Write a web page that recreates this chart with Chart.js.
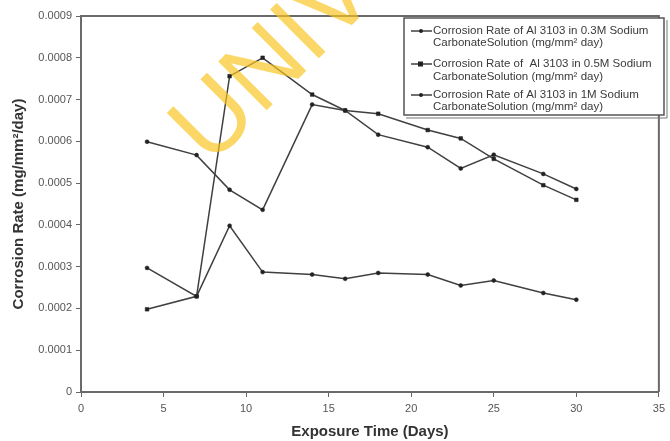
<!DOCTYPE html>
<html><head><meta charset="utf-8">
<script src="https://cdn.jsdelivr.net/npm/chart.js@4.4.1/dist/chart.umd.min.js"></script>
<style>html,body{margin:0;padding:0;background:#fff;}#wrap{width:670px;height:441px;}</style>
</head><body><div id="wrap"><canvas id="c" width="670" height="441"></canvas></div>
<script>
const days = [4, 7, 9, 11, 14, 16, 18, 21, 23, 25, 28, 30];
const rate03 = [0.000297, 0.000229, 0.000398, 0.000287, 0.000281, 0.000271, 0.000285, 0.000281, 0.000255, 0.000267, 0.000237, 0.000221];
const rate05 = [0.000198, 0.000229, 0.000756, 0.000800, 0.000712, 0.000674, 0.000666, 0.000627, 0.000607, 0.000558, 0.000495, 0.000460];
const rate1  = [0.000599, 0.000567, 0.000484, 0.000436, 0.000688, 0.000674, 0.000616, 0.000586, 0.000535, 0.000568, 0.000522, 0.000486];
const seriesLabels = [
  ["Corrosion Rate of Al 3103 in 0.3M Sodium", "CarbonateSolution (mg/mm\u00B2 day)"],
  ["Corrosion Rate of  Al 3103 in 0.5M Sodium", "CarbonateSolution (mg/mm\u00B2 day)"],
  ["Corrosion Rate of Al 3103 in 1M Sodium", "CarbonateSolution (mg/mm\u00B2 day)"]
];
const xTitle = "Exposure Time (Days)";
const yTitle = "Corrosion Rate (mg/mm\u00B2/day)";
const watermark = "UNIVERSITY";

const pts = arr => days.map((d, i) => ({x: d, y: arr[i]}));
const lineCol = '#404040';
const FONT = "'Liberation Sans', Arial, sans-serif";

const framePlugin = {
  id: 'frame',
  afterDraw(chart) {
    const {ctx, chartArea: a} = chart;
    ctx.save();
    // top and right frame
    ctx.strokeStyle = '#6a6a6a';
    ctx.lineWidth = 2;
    ctx.beginPath();
    ctx.moveTo(a.left, a.top); ctx.lineTo(a.right, a.top); ctx.lineTo(a.right, a.bottom);
    ctx.stroke();
    // legend box
    const bx = 404, by = 18, bw = 260, bh = 97;
    ctx.fillStyle = '#fff';
    ctx.fillRect(bx, by, bw, bh);
    ctx.strokeStyle = '#555';
    ctx.lineWidth = 1.5;
    ctx.strokeRect(bx, by, bw, bh);
    ctx.lineWidth = 1;
    ctx.strokeStyle = '#777';
    ctx.beginPath();
    ctx.moveTo(bx + 2, by + bh + 3); ctx.lineTo(bx + bw + 3, by + bh + 3); ctx.lineTo(bx + bw + 3, by + 2);
    ctx.stroke();
    const rows = [[31, 43], [64, 77], [95, 107]];
    ctx.font = '11.5px ' + FONT;
    ctx.textBaseline = 'middle';
    ctx.textAlign = 'left';
    chart.data.datasets.forEach((ds, i) => {
      const y = rows[i][0];
      ctx.strokeStyle = lineCol; ctx.lineWidth = 1.5;
      ctx.beginPath(); ctx.moveTo(411, y); ctx.lineTo(432, y); ctx.stroke();
      ctx.fillStyle = '#222';
      if (ds.pointStyle === 'rect') { ctx.fillRect(418, y - 2.5, 5, 5); }
      else { ctx.beginPath(); ctx.arc(421, y, 2, 0, Math.PI * 2); ctx.fill(); }
      ctx.fillStyle = '#3a3a3a';
      seriesLabels[i].forEach((t, j) => ctx.fillText(t, 433, rows[i][j]));
    });
    // watermark
    ctx.translate(210, 167);
    ctx.rotate(-Math.PI / 4);
    ctx.font = '100px ' + FONT;
    ctx.textBaseline = 'alphabetic';
    ctx.fillStyle = 'rgba(247,196,30,0.68)';
    ctx.fillText(watermark, 0, 0);
    ctx.restore();
  }
};

new Chart(document.getElementById('c'), {
  type: 'line',
  data: {
    datasets: [
      {label: seriesLabels[0].join(' '), data: pts(rate03), pointStyle: 'circle', pointRadius: 2},
      {label: seriesLabels[1].join(' '), data: pts(rate05), pointStyle: 'rect', pointRadius: 2.6},
      {label: seriesLabels[2].join(' '), data: pts(rate1), pointStyle: 'circle', pointRadius: 2}
    ].map(d => Object.assign(d, {borderColor: lineCol, backgroundColor: '#222', pointBorderColor: '#222',
      pointBackgroundColor: '#222', pointBorderWidth: 0.5, borderWidth: 1.5, tension: 0, fill: false}))
  },
  options: {
    responsive: false,
    animation: false,
    devicePixelRatio: 1,
    layout: {padding: {top: 16, right: 8, left: 0, bottom: 0}},
    plugins: {legend: {display: false}, tooltip: {enabled: false}},
    scales: {
      x: {
        type: 'linear', min: 0, max: 35,
        ticks: {stepSize: 5, color: '#555', font: {family: FONT, size: 11}, padding: 5, maxRotation: 0},
        grid: {drawOnChartArea: false, tickLength: 5, color: '#666'},
        border: {color: '#6a6a6a', width: 2},
        title: {display: true, text: xTitle, color: '#333', font: {family: FONT, size: 15, weight: 'bold'}, padding: {top: 0, bottom: 0}},
        afterFit(s) { s.height = 49; }
      },
      y: {
        type: 'linear', min: 0, max: 0.0009,
        ticks: {stepSize: 0.0001, color: '#555', font: {family: FONT, size: 11}, padding: 4,
          callback: v => { const r = Math.round(v * 1e4) / 1e4; return r === 0 ? '0' : r.toFixed(4); }},
        grid: {drawOnChartArea: false, tickLength: 5, color: '#666'},
        border: {color: '#6a6a6a', width: 2},
        title: {display: true, text: yTitle, color: '#333', font: {family: FONT, size: 15, weight: 'bold'}, padding: {top: 10, bottom: 0}},
        afterFit(s) { s.width = 81; }
      }
    }
  },
  plugins: [framePlugin]
});
</script>
</body></html>
